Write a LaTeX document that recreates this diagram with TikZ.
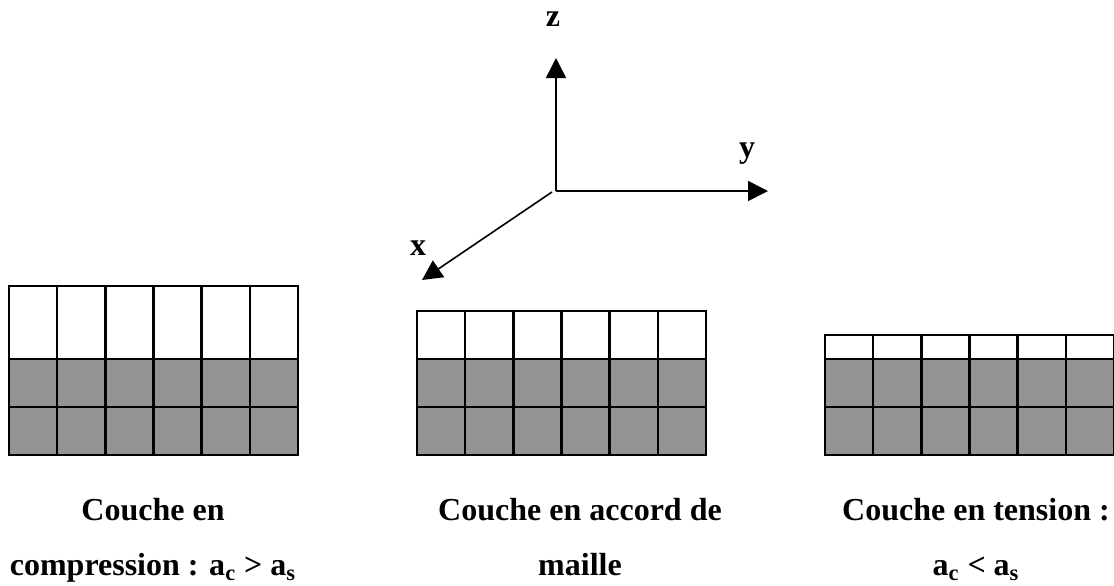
\documentclass[tikz,border=0pt]{standalone}
\usepackage{fontspec}
\setmainfont{Liberation Serif}
\usetikzlibrary{arrows.meta}
\definecolor{cellgray}{RGB}{148,148,148}
\begin{document}
\begin{tikzpicture}[x=0.5pt,y=-0.5pt,
  cell/.style={line width=1.2pt},
  axis/.style={line width=0.8pt,-{Triangle[length=10pt,width=10pt]}},
  lbl/.style={font=\fontsize{16}{20}\selectfont\bfseries,inner sep=0pt,anchor=base}]
  \useasboundingbox (0,0) rectangle (1114,585);
  % axes
  \coordinate (O) at (556,191);
  \coordinate (Ox) at (552,192);
  \coordinate (zt) at (556,58);
  \coordinate (yt) at (768,191);
  \coordinate (xt) at (422,280);
  \draw [axis] (O) -- (zt);
  \draw [axis] (O) -- (yt);
  \draw [axis] (Ox) -- (xt);
  \node [lbl] (zlab) at (553,26) {z};
  \node [lbl] (ylab) at (747,157) {y};
  \node [lbl] (xlab) at (418,255) {x};
  % the three layers
  \foreach \xa/\ya in {9/286,417/311,825/335}
  {
    \fill [cellgray] (\xa,359) rectangle ++(289,96);
    \draw [cell] (\xa,\ya) rectangle (\xa+289,455);
    \draw [cell] (\xa,359) -- ++(289,0);
    \draw [cell] (\xa,407) -- ++(289,0);
    \foreach \i in {1,...,5}
    {
      \pgfmathsetmacro{\xc}{\xa + \i*289/6};
      \draw [cell] (\xc,\ya) -- (\xc,455);
    }
  }
  % captions
  \node [lbl] (comp1) at (153,520) {Couche en};
  \node [lbl] (comp2) at (153,575) {compression : a\textsubscript{c} > a\textsubscript{s}};
  \node [lbl] (acc1) at (580,520) {Couche en accord de};
  \node [lbl] (acc2) at (580,575) {maille};
  \node [lbl] (tens1) at (976,520) {Couche en tension :};
  \node [lbl] (tens2) at (976,575) {a\textsubscript{c} < a\textsubscript{s}};
\end{tikzpicture}
\end{document}
